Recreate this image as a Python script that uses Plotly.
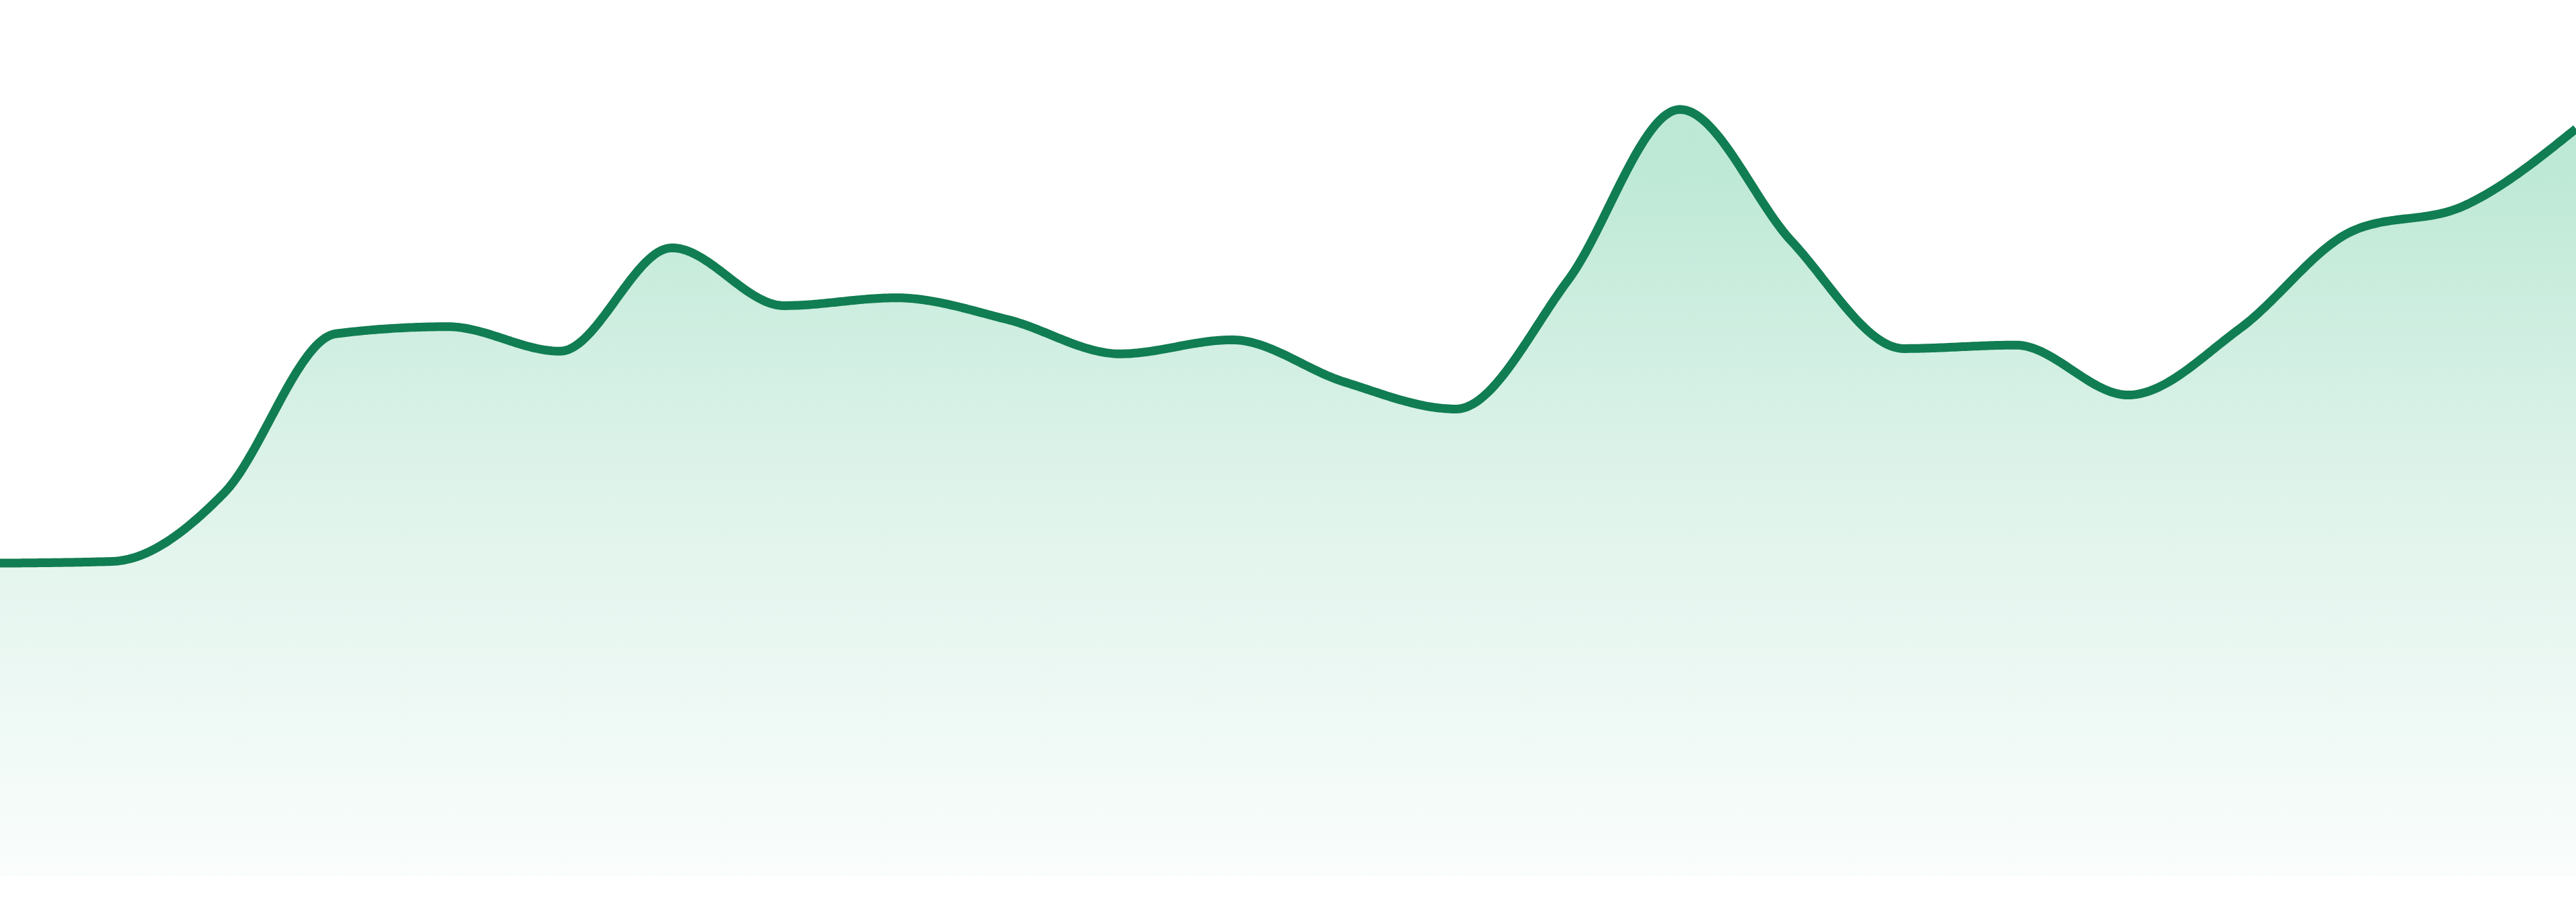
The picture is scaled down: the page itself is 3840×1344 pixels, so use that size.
import numpy as np
import plotly.graph_objects as go

# ==========================================================
# Data
# ==========================================================
periods = [0, 1, 2, 3, 4, 5, 6, 7, 8, 9, 10, 11,
           12, 13, 14, 15, 16, 17, 18, 19, 20, 21, 22, 23]
values = [35.7, 35.9, 43.7, 61.9, 62.7, 59.9, 71.7, 65.1, 66.0, 63.5, 59.6, 61.2,
          56.4, 53.3, 68.0, 87.5, 72.4, 60.2, 60.6, 54.9, 62.5, 73.6, 76.5, 85.3]

line_color = "#117d52"


# ==========================================================
# Monotone cubic curve (same maths as d3.curveMonotoneX),
# used only to draw the smooth line between the data points
# ==========================================================
def monotone_curve(xs, ys, steps=40):
    xs = np.asarray(xs, dtype=float)
    ys = np.asarray(ys, dtype=float)
    n = len(xs)
    t = np.zeros(n)
    for i in range(1, n - 1):
        h0 = xs[i] - xs[i - 1]
        h1 = xs[i + 1] - xs[i]
        s0 = (ys[i] - ys[i - 1]) / h0
        s1 = (ys[i + 1] - ys[i]) / h1
        p = (s0 * h1 + s1 * h0) / (h0 + h1)
        t[i] = (np.sign(s0) + np.sign(s1)) * min(abs(s0), abs(s1), 0.5 * abs(p))
    h = xs[1] - xs[0]
    t[0] = (3 * (ys[1] - ys[0]) / h - t[1]) / 2
    h = xs[-1] - xs[-2]
    t[-1] = (3 * (ys[-1] - ys[-2]) / h - t[-2]) / 2

    cx, cy = [xs[0]], [ys[0]]
    u = np.linspace(0, 1, steps + 1)[1:]
    for i in range(n - 1):
        dx = (xs[i + 1] - xs[i]) / 3
        p0 = (xs[i], ys[i])
        p1 = (xs[i] + dx, ys[i] + dx * t[i])
        p2 = (xs[i + 1] - dx, ys[i + 1] - dx * t[i + 1])
        p3 = (xs[i + 1], ys[i + 1])
        for k in range(2):
            pts = ((1 - u) ** 3 * p0[k] + 3 * (1 - u) ** 2 * u * p1[k]
                   + 3 * (1 - u) * u ** 2 * p2[k] + u ** 3 * p3[k])
            (cx if k == 0 else cy).extend(pts)
    return cx, cy


curve_x, curve_y = monotone_curve(periods, values)

# ==========================================================
# Area chart with vertical gradient fill
# ==========================================================
fig = go.Figure()

fig.add_trace(
    go.Scatter(
        x=curve_x,
        y=curve_y,
        mode="lines",
        line=dict(color=line_color, width=13, simplify=False),
        fill="tozeroy",
        fillgradient=dict(
            type="vertical",
            start=0,
            stop=100,
            colorscale=[
                [0.0, "rgb(250,253,252)"],
                [0.45, "rgb(222,243,234)"],
                [0.8, "rgb(191,233,215)"],
                [1.0, "rgb(187,231,213)"],
            ],
        ),
        hoverinfo="skip",
        showlegend=False,
    )
)

fig.update_xaxes(visible=False, range=[0, 23], fixedrange=True)
fig.update_yaxes(visible=False, range=[0, 100], fixedrange=True)

fig.update_layout(
    width=3840,
    height=1344,
    margin=dict(l=0, r=0, t=0, b=39),
    paper_bgcolor="white",
    plot_bgcolor="white",
)

fig.write_html(
    "out.html",
    config={"displayModeBar": False},
    post_script="document.body.style.margin='0';document.body.style.overflow='hidden';",
)
